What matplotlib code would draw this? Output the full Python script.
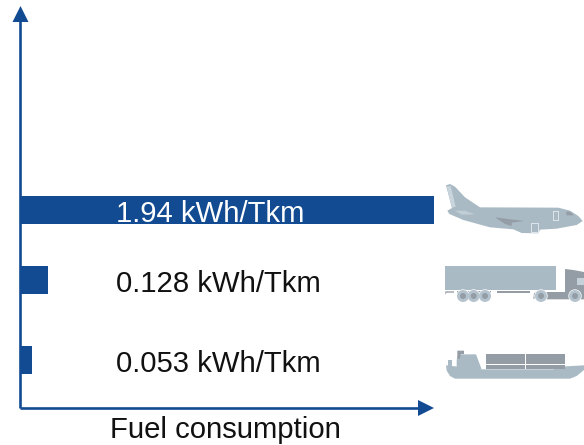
import matplotlib
matplotlib.use("Agg")
import matplotlib.pyplot as plt
from matplotlib.patches import Polygon, Circle

plt.rcParams['font.family'] = ['Liberation Sans', 'DejaVu Sans']

# data
modes = ['Aircraft', 'Truck', 'Ship']
consumption = [1.94, 0.128, 0.053]
labels = ['1.94 kWh/Tkm', '0.128 kWh/Tkm', '0.053 kWh/Tkm']
label_colors = ['white', '#111111', '#111111']
xlabel = 'Fuel consumption'

W, H = 584, 445
BLUE = '#134B92'
ICON = '#A9BAC5'
DARK = '#949DA5'

# layout, pixels from top of the image
bar_y = [210, 280, 360]
bar_h = 28
x0, x1 = 20.5, 434
axis_x = 20


def zp(pts):
    return [(430 + a / 3.0, 170 + b / 3.0) for a, b in pts]


def poly(ax, pts, color=ICON, z=3):
    ax.add_patch(Polygon(zp(pts), closed=True, fc=color, ec='none', zorder=z))


def wheel(ax, a, b, r=18):
    c = zp([(a, b)])[0]
    ax.add_patch(Circle(c, (r + 2) / 3.0, fc='white', ec='none', zorder=3))
    ax.add_patch(Circle(c, r / 3.0, fc='#B4C3CD', ec='none', zorder=4))
    ax.add_patch(Circle(c, r / 6.0, fc=DARK, ec='none', zorder=5))


def draw_plane(ax):
    poly(ax, [(48, 46), (60, 42), (75, 50), (105, 82), (150, 112), (385, 113), (420, 122), (445, 138),
              (458, 153), (440, 165), (380, 176), (330, 179), (325, 190), (275, 189), (250, 178), (180, 172),
              (100, 150), (58, 132), (52, 122), (66, 114)])
    poly(ax, [(50, 50), (62, 48), (77, 110), (66, 113)], '#C9D5DC')
    poly(ax, [(75, 122), (105, 122), (135, 133), (95, 134)], '#C1CED6')
    poly(ax, [(195, 142), (282, 153), (245, 158), (245, 168), (225, 162)], DARK)
    poly(ax, [(368, 124), (386, 124), (386, 154), (368, 154)], '#DDE4E9', 4)
    poly(ax, [(371, 127), (383, 127), (383, 151), (371, 151)], ICON, 5)
    poly(ax, [(408, 125), (420, 125), (432, 136), (410, 136)], DARK)
    poly(ax, [(302, 160), (326, 160), (326, 190), (304, 190)], '#DDE4E9', 4)
    poly(ax, [(306, 163), (323, 163), (323, 187), (306, 187)], ICON, 5)


def draw_truck(ax):
    poly(ax, [(45, 288), (378, 288), (378, 360), (45, 360)])
    poly(ax, [(405, 297), (430, 300), (462, 306), (462, 388), (345, 388), (345, 366), (405, 366)], DARK)
    poly(ax, [(440, 323), (462, 323), (462, 345), (440, 345)], '#C5D1D9', 4)
    poly(ax, [(80, 362), (183, 362), (183, 384), (80, 384)], DARK)
    poly(ax, [(200, 363), (300, 363), (300, 369), (200, 369)], DARK)
    poly(ax, [(46, 364), (72, 364), (72, 368), (50, 368), (46, 374)], DARK)
    poly(ax, [(310, 386), (312, 370), (325, 362), (345, 362), (345, 386)], DARK)
    for a in [99, 131, 165, 333, 435]:
        wheel(ax, a, 378)


def draw_ship(ax):
    poly(ax, [(48, 586), (155, 598), (370, 598), (390, 590), (462, 586), (462, 600), (440, 618), (420, 626),
              (75, 626), (60, 618), (50, 602)])
    poly(ax, [(54, 588), (54, 570), (66, 570), (66, 588)])
    poly(ax, [(80, 590), (80, 570), (85, 553), (138, 553), (155, 598), (80, 598)])
    poly(ax, [(82, 542), (102, 542), (102, 552), (92, 552), (90, 566), (82, 566)], DARK)
    for a0, a1 in [(168, 285), (288, 405)]:
        poly(ax, [(a0, 552), (a1, 552), (a1, 581), (a0, 581)], DARK)
        poly(ax, [(a0, 585), (a1, 585), (a1, 598), (a0, 598)], DARK)


fig = plt.figure(figsize=(W / 100.0, H / 100.0), dpi=100, facecolor='white')

# bar axes: x is in kWh/Tkm, y runs in image pixels
ax = fig.add_axes([x0 / W, 0, (x1 - x0) / W, 1])
ax.set_xlim(0, max(consumption))
ax.set_ylim(H, 0)
ax.axis('off')
ax.barh(bar_y, consumption, height=bar_h, color=BLUE, zorder=2)

# overlay in pixels for axes arrows, text and icons
ov = fig.add_axes([0, 0, 1, 1])
ov.set_xlim(0, W)
ov.set_ylim(H, 0)
ov.axis('off')
ov.patch.set_alpha(0)

ov.plot([axis_x, axis_x], [408, 20], color=BLUE, lw=1.9, solid_capstyle='butt')
ov.plot([axis_x, 420], [408, 408], color=BLUE, lw=1.9, solid_capstyle='butt')
ov.add_patch(Polygon([(12.5, 22), (28.5, 22), (20.5, 6)], closed=True, fc=BLUE, ec='none'))
ov.add_patch(Polygon([(418, 400), (418, 416), (434, 408)], closed=True, fc=BLUE, ec='none'))

for y, t, c in zip(bar_y, labels, label_colors):
    ov.text(116.5, y + 3.5, t, color=c, fontsize=21.1, ha='left', va='center')
ov.text(225.5, 429.5, xlabel, color='#111111', fontsize=21.1, ha='center', va='center')

draw_plane(ov)
draw_truck(ov)
draw_ship(ov)

fig.savefig('out.png', dpi=100)
